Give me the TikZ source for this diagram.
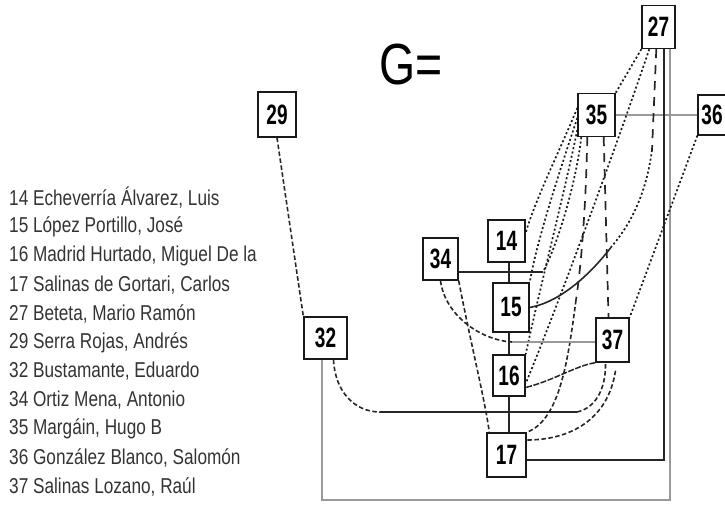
\documentclass[tikz,border=0pt]{standalone}
\usepackage{fontspec}
\setmainfont{Liberation Sans}
\newfontfamily\legfont[FakeStretch=0.8]{Liberation Sans}
\newfontfamily\boxfont[FakeStretch=0.68]{Liberation Sans}
\newfontfamily\gfont[FakeStretch=0.8]{Liberation Sans}
\usetikzlibrary{calc}
\begin{document}
\begin{tikzpicture}[x=1pt,y=-1pt,
  nbox/.style={draw=black!90, line width=1.4pt, inner sep=0pt, font={\boxfont\bfseries\fontsize{28}{28}\selectfont}},
  leg/.style={anchor=west, inner sep=0pt, text=black!80, font={\legfont\fontsize{21.5}{21.5}\selectfont}},
  dotl/.style={line width=1.7pt, dash pattern=on 2pt off 2.4pt, black!90},
  dashl/.style={line width=1.6pt, dash pattern=on 4.5pt off 2.5pt, black!85},
  longd/.style={line width=1.7pt, dash pattern=on 9pt off 7pt, black!85},
  solidl/.style={line width=1.6pt, black!85},
  grayl/.style={line width=1.6pt, black!40},
  semil/.style={line width=1.5pt, dash pattern=on 6pt off 1.5pt, black!85},
]
\useasboundingbox (0,0) rectangle (725,514);

% legend
\node[leg] (l14) at (9,198) {14 Echeverría Álvarez, Luis};
\node[leg] (l15) at (9,226.9) {15 López Portillo, José};
\node[leg] (l16) at (9,255.8) {16 Madrid Hurtado, Miguel De la};
\node[leg] (l17) at (9,284.7) {17 Salinas de Gortari, Carlos};
\node[leg] (l27) at (9,313.6) {27 Beteta, Mario Ramón};
\node[leg] (l29) at (9,342.5) {29 Serra Rojas, Andrés};
\node[leg] (l32) at (9,371.4) {32 Bustamante, Eduardo};
\node[leg] (l34) at (9,400.3) {34 Ortiz Mena, Antonio};
\node[leg] (l35) at (9,429.2) {35 Margáin, Hugo B};
\node[leg] (l36) at (9,458.1) {36 González Blanco, Salomón};
\node[leg] (l37) at (9,487) {37 Salinas Lozano, Raúl};

\node[font={\gfont\fontsize{58}{58}\selectfont}, inner sep=0pt] (geq) at (411,65) {G=};

% boxes
\node[nbox, minimum width=33pt, minimum height=43pt] (n27) at (658.5,27) {27};
\node[nbox, minimum width=37pt, minimum height=43pt] (n35) at (596.5,115) {35};
\node[nbox, minimum width=28pt, minimum height=40pt] (n36) at (712,115) {36};
\node[nbox, minimum width=38pt, minimum height=45pt] (n29) at (277,114.5) {29};
\node[nbox, minimum width=43pt, minimum height=42pt] (n32) at (325.5,338) {32};
\node[nbox, minimum width=35pt, minimum height=42pt] (n34) at (440.5,259) {34};
\node[nbox, minimum width=37pt, minimum height=42pt] (n14) at (506.5,241) {14};
\node[nbox, minimum width=36pt, minimum height=49pt] (n15) at (511,307.5) {15};
\node[nbox, minimum width=32pt, minimum height=41pt] (n16) at (509,375.5) {16};
\node[nbox, minimum width=39pt, minimum height=44pt] (n17) at (506.5,455) {17};
\node[nbox, minimum width=33pt, minimum height=44pt] (n37) at (612.5,340) {37};

% helper coordinates
\coordinate (vx) at (509,0);
\coordinate (vr) at (664,0);
\coordinate (g1) at (322,500);
\coordinate (g2) at (670,500);
\coordinate (a1) at (652,150);
\coordinate (a2) at (612,246);
\coordinate (c543) at (543,272);
\coordinate (m1) at (576,300);
\coordinate (h1) at (380,412);
\coordinate (h2) at (577,412);
\coordinate (k1) at (512,342);

% gray connectors
\draw[grayl] (n32.south -| g1) -- (g1) -- (g2) -- (n27.south -| g2);
\draw[grayl] (n35.east) -- (n36.west);

% solid connectors
\draw[solidl] (n14.south -| vx) -- (n15.north -| vx);
\draw[solidl] (n15.south -| vx) -- (n16.north -| vx);
\draw[solidl] (n16.south -| vx) -- (n17.north -| vx);
\draw[solidl] (n27.south -| vr) |- ([yshift=-5pt]n17.east);

% 29 - 32
\draw[dashl] (n29.south) -- (n32.north west);
% 27 - 35
\draw[dotl] (n27.south west) -- (n35.north east);
% 27 - 16
\draw[dotl] ([xshift=8pt]n27.south west) .. controls (615,150) and (560,300) .. ([yshift=-8pt]n16.east);
% 27 - 15
\draw[longd] ([xshift=15pt]n27.south west) -- (a1);
\draw[dotl] (a1) .. controls (646,195) and (630,225) .. (a2);
\draw[solidl] (a2) .. controls (590,275) and (560,302) .. (n15.east);
% 36 - 37
\draw[dotl] (n36.south west) -- (n37.north east);
% 35 - 14, 15, 16
\draw[dotl] ([yshift=7pt]n35.west) .. controls (560,150) and (535,200) .. ([yshift=8pt]n14.east);
\draw[dotl] ([yshift=-3pt]n35.west) .. controls (560,170) and (537,240) .. (n15.north east);
\draw[dotl] ([yshift=-15pt]n35.west) .. controls (565,190) and (537,300) .. (n16.north east);
% 35 - 34
\draw[dotl] ([xshift=4pt]n35.south west) .. controls (575,190) and (555,250) .. (c543);
\draw[solidl] (c543) -- (n34.east |- c543);
% 35 - 17
\draw[longd] ([xshift=10pt]n35.south west) .. controls (586,200) and (582,260) .. (m1);
\draw[dashl] (m1) .. controls (568,360) and (560,420) .. (n17.north east);
% 35 - 37
\draw[longd] ([xshift=-12pt]n35.south east) -- ([xshift=-4pt]n37.north);
% 34 - 17
\draw[dashl] (n34.south east) .. controls (470,340) and (485,400) .. ([xshift=3pt]n17.north west);
% 34 - 37
\draw[dashl] (n34.south) .. controls (445,315) and (480,340) .. (k1);
\draw[grayl] (k1) -- (n37.west |- k1);
% 32 - 37
\draw[dashl] ([xshift=8pt]n32.south) .. controls (335,392) and (355,412) .. (h1);
\draw[solidl] (h1) -- (h2);
\draw[dashl] (h2) .. controls (595,408) and (606,390) .. ([xshift=-7pt]n37.south);
% 37 - 16
\draw[semil] (n37.south west) .. controls (575,366) and (555,380) .. ([yshift=-12pt]n16.east);
% 37 - 17
\draw[dashl] ([xshift=3pt,yshift=-8pt]n37.south) .. controls (608,420) and (570,440) .. ([yshift=15pt]n17.east);
\end{tikzpicture}
\end{document}
